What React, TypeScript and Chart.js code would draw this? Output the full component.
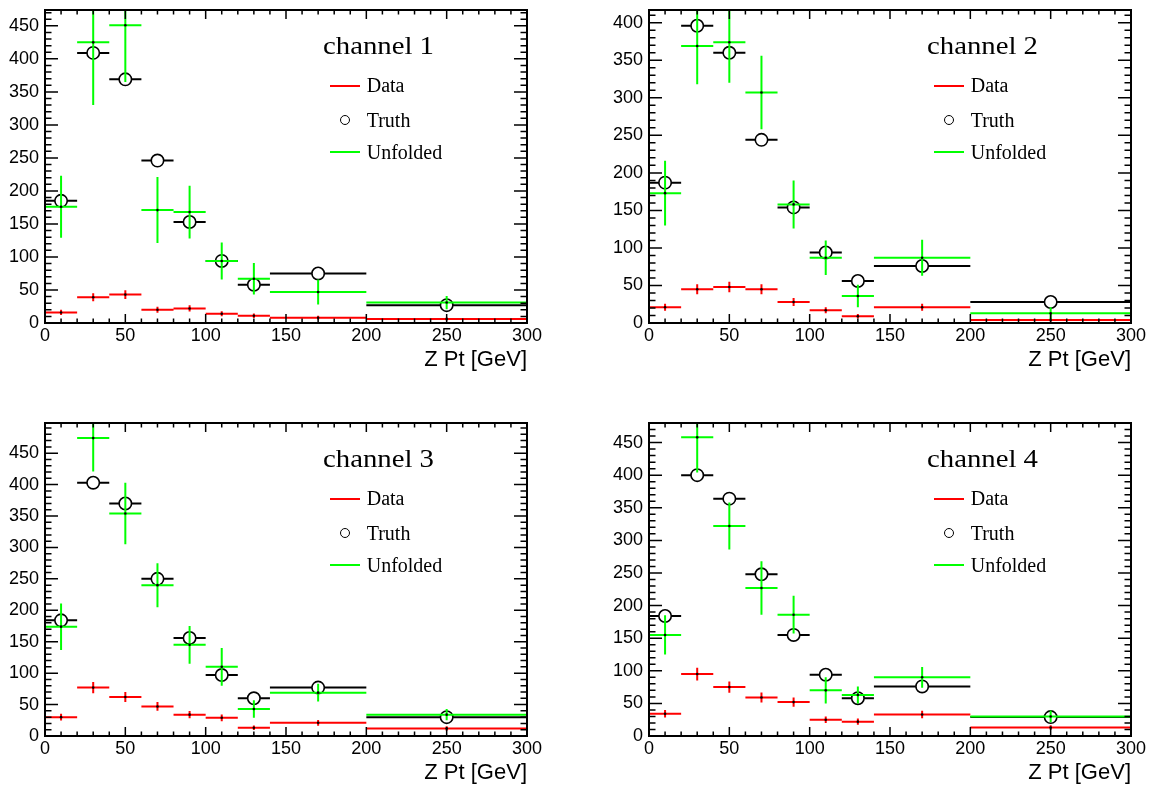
import React, { useEffect, useRef } from 'react';
import { Chart, registerables } from 'chart.js';

Chart.register(...registerables);

// ---------------- data ----------------
const BIN_EDGES = [0, 20, 40, 60, 80, 100, 120, 140, 200, 300];
const CHANNEL_TITLES = ['channel 1', 'channel 2', 'channel 3', 'channel 4'];
const LEGEND_LABELS = ['Data', 'Truth', 'Unfolded'];
const X_AXIS_TITLE = 'Z Pt [GeV]';
const Y_MAX = [474, 417, 498, 480];

const truth1 = [185, 409, 369, 246, 153, 94, 58, 75, 27];
const unfolded1 = [176, 425, 451, 171, 168, 94, 67, 47, 31];
const unfoldedErr1 = [47, 95, 86, 50, 40, 28, 24, 19, 10];
const data1 = [16, 39, 43, 20, 22, 14, 11, 8, 6];
const dataErr1 = [4, 6, 6.5, 4.5, 4.7, 3.7, 3.3, 2.8, 2.4];

const truth2 = [187, 396, 360, 244, 154, 94, 56, 76, 28];
const unfolded2 = [173, 369, 374, 307, 158, 87, 36, 87, 13];
const unfoldedErr2 = [43, 51, 54, 49, 32, 23, 15, 24, 8];
const data2 = [21, 45, 48, 45, 28, 17, 9, 21, 4];
const dataErr2 = [4.6, 6.7, 6.9, 6.7, 5.3, 4.1, 3, 4.6, 2];

const truth3 = [184, 403, 370, 250, 156, 97, 60, 77, 30];
const unfolded3 = [174, 474, 354, 240, 145, 110, 43, 69, 34];
const unfoldedErr3 = [37, 53, 49, 35, 30, 30, 14, 14, 9];
const data3 = [30, 77, 62, 47, 34, 29, 13, 21, 12];
const dataErr3 = [5.5, 8.8, 7.9, 6.9, 5.8, 5.4, 3.6, 4.6, 3.5];

const truth4 = [184, 400, 364, 248, 155, 94, 58, 76, 29];
const unfolded4 = [155, 458, 322, 227, 186, 70, 63, 90, 30];
const unfoldedErr4 = [30, 54, 36, 41, 29, 20, 13, 16, 9];
const data4 = [34, 95, 75, 59, 52, 25, 22, 33, 13];
const dataErr4 = [5.8, 9.7, 8.7, 7.7, 7.2, 5, 4.7, 5.7, 3.6];

const PANELS = [
  { truth: truth1, unf: unfolded1, unfErr: unfoldedErr1, data: data1, dataErr: dataErr1 },
  { truth: truth2, unf: unfolded2, unfErr: unfoldedErr2, data: data2, dataErr: dataErr2 },
  { truth: truth3, unf: unfolded3, unfErr: unfoldedErr3, data: data3, dataErr: dataErr3 },
  { truth: truth4, unf: unfolded4, unfErr: unfoldedErr4, data: data4, dataErr: dataErr4 },
];

// ---------------- layout ----------------
const COL_LEFT = [45, 649];
const ROW_TOP = [10, 423];
const Y_AXIS_W = 45;
const PLOT_W = 482;
const PLOT_H = 313;
const TOP_PAD = 10;
const RIGHT_PAD = 26;
const X_AXIS_H = 50;
const CANVAS_W = Y_AXIS_W + PLOT_W + RIGHT_PAD;
const CANVAS_H = TOP_PAD + PLOT_H + X_AXIS_H;

const SANS = '"Liberation Sans", Arial, Helvetica, sans-serif';
const SERIF = '"Liberation Serif", "Times New Roman", serif';

const X_MAJOR = 50, X_MINOR = 10, Y_MAJOR = 50, Y_MINOR = 10;

function histSegments(values: number[], errs: number[] | null) {
  const pts: { x: number; y: number | null }[] = [];
  values.forEach((v, i) => {
    const lo = BIN_EDGES[i];
    const hi = BIN_EDGES[i + 1];
    const c = (lo + hi) / 2;
    pts.push({ x: lo, y: v }, { x: hi, y: v }, { x: c, y: null });
    if (errs) {
      pts.push({ x: c, y: v - errs[i] }, { x: c, y: v + errs[i] }, { x: c, y: null });
    }
  });
  return pts;
}

function centers(values: number[]) {
  return values.map((v, i) => ({ x: (BIN_EDGES[i] + BIN_EDGES[i + 1]) / 2, y: v }));
}

const frameTicks = {
  id: 'frameTicks',
  afterDatasetsDraw(chart: any) {
    const { ctx, chartArea: a, scales } = chart;
    const xs = scales.x;
    const ys = scales.y;
    ctx.save();
    ctx.strokeStyle = '#000';
    ctx.lineWidth = 1.5;
    ctx.beginPath();
    for (let v = xs.min; v <= xs.max + 1e-6; v += X_MINOR) {
      const p = xs.getPixelForValue(v);
      const L = Math.round(v) % X_MAJOR === 0 ? 9 : 4.5;
      ctx.moveTo(p, a.bottom);
      ctx.lineTo(p, a.bottom - L);
      ctx.moveTo(p, a.top);
      ctx.lineTo(p, a.top + L);
    }
    for (let v = 0; v <= ys.max + 1e-6; v += Y_MINOR) {
      const p = ys.getPixelForValue(v);
      const L = Math.round(v) % Y_MAJOR === 0 ? 13 : 6.5;
      ctx.moveTo(a.left, p);
      ctx.lineTo(a.left + L, p);
      ctx.moveTo(a.right, p);
      ctx.lineTo(a.right - L, p);
    }
    ctx.stroke();
    ctx.lineWidth = 2;
    ctx.strokeRect(a.left, a.top, a.right - a.left, a.bottom - a.top);
    ctx.restore();
  },
};

function Panel({ idx }: { idx: number }) {
  const ref = useRef<HTMLCanvasElement>(null);
  const col = idx % 2;
  const row = Math.floor(idx / 2);
  const left = COL_LEFT[col] - Y_AXIS_W;
  const top = ROW_TOP[row] - TOP_PAD;

  useEffect(() => {
    const p = PANELS[idx];
    const chart = new Chart(ref.current as HTMLCanvasElement, {
      type: 'line',
      data: {
        datasets: [
          {
            label: 'UnfoldedCenter',
            data: centers(p.unf),
            showLine: false,
            pointRadius: 1.3,
            pointBackgroundColor: '#000',
            pointBorderWidth: 0,
            order: 0,
          },
          {
            label: LEGEND_LABELS[2],
            data: histSegments(p.unf, p.unfErr),
            borderColor: '#00ff00',
            borderWidth: 2,
            pointRadius: 0,
            spanGaps: false,
            order: 1,
          },
          {
            label: LEGEND_LABELS[1],
            data: centers(p.truth),
            showLine: false,
            pointRadius: 6.2,
            pointStyle: 'circle',
            pointBackgroundColor: '#ffffff',
            pointBorderColor: '#000',
            pointBorderWidth: 1.6,
            order: 2,
          },
          {
            label: 'TruthBins',
            data: histSegments(p.truth, null),
            borderColor: '#000',
            borderWidth: 2,
            pointRadius: 0,
            spanGaps: false,
            order: 3,
          },
          {
            label: 'DataCenter',
            data: centers(p.data),
            showLine: false,
            pointRadius: 1.3,
            pointBackgroundColor: '#000',
            pointBorderWidth: 0,
            order: 4,
          },
          {
            label: LEGEND_LABELS[0],
            data: histSegments(p.data, p.dataErr),
            borderColor: '#ff0000',
            borderWidth: 2,
            pointRadius: 0,
            spanGaps: false,
            order: 5,
          },
        ],
      } as any,
      options: {
        responsive: false,
        animation: false,
        events: [],
        layout: { padding: { top: TOP_PAD, right: RIGHT_PAD, left: 0, bottom: 0 } },
        plugins: { legend: { display: false }, tooltip: { enabled: false }, title: { display: false } },
        scales: {
          x: {
            type: 'linear',
            min: 0,
            max: 300,
            grid: { display: false, drawTicks: false },
            border: { display: false },
            ticks: {
              stepSize: 50,
              includeBounds: false,
              padding: 4,
              color: '#000',
              maxRotation: 0,
              autoSkip: false,
              font: { family: SANS, size: 18, lineHeight: 1 },
            },
            title: {
              display: true,
              text: X_AXIS_TITLE,
              align: 'end',
              color: '#000',
              padding: 0,
              font: { family: SANS, size: 22, lineHeight: 1.2 },
            },
            afterFit: (s: any) => {
              s.height = X_AXIS_H;
              s.paddingLeft = 0;
              s.paddingRight = 0;
            },
          },
          y: {
            type: 'linear',
            min: 0,
            max: Y_MAX[idx],
            grid: { display: false, drawTicks: false },
            border: { display: false },
            ticks: {
              stepSize: 50,
              includeBounds: false,
              padding: 6,
              color: '#000',
              font: { family: SANS, size: 18, lineHeight: 1 },
            },
            afterBuildTicks: (s: any) => {
              const t: { value: number }[] = [];
              for (let v = 0; v <= s.max + 1e-6; v += Y_MAJOR) t.push({ value: v });
              s.ticks = t;
            },
            afterFit: (s: any) => {
              s.width = Y_AXIS_W;
              s.paddingTop = 0;
              s.paddingBottom = 0;
            },
          },
        },
      } as any,
      plugins: [frameTicks],
    });
    return () => chart.destroy();
  }, [idx]);

  return (
    <canvas
      ref={ref}
      width={CANVAS_W}
      height={CANVAS_H}
      style={{ position: 'absolute', left, top, width: CANVAS_W, height: CANVAS_H }}
    />
  );
}

function Legend({ idx }: { idx: number }) {
  const col = idx % 2;
  const row = Math.floor(idx / 2);
  const pl = COL_LEFT[col];
  const pt = ROW_TOP[row];
  const titleSize = 25;
  const entrySize = 20;
  const base = (fs: number) => 0.8375 * fs;
  const textStyle = (fs: number, baseline: number, x: number): React.CSSProperties => ({
    position: 'absolute',
    left: x,
    top: baseline - base(fs),
    fontFamily: SERIF,
    fontSize: fs,
    lineHeight: 1,
    color: '#000',
    whiteSpace: 'nowrap',
  });
  return (
    <>
      <div style={{ ...textStyle(titleSize, pt + 44, pl + 278), transform: 'scaleX(1.15)', transformOrigin: 'left top' }}>
        {CHANNEL_TITLES[idx]}
      </div>
      <div style={{ position: 'absolute', left: pl + 285, top: pt + 75, width: 30, height: 2, background: '#ff0000' }} />
      <div style={textStyle(entrySize, pt + 81.7, pl + 321.7)}>{LEGEND_LABELS[0]}</div>
      <div
        style={{
          position: 'absolute',
          left: pl + 299.5 - 5,
          top: pt + 110 - 5,
          width: 10,
          height: 10,
          boxSizing: 'border-box',
          border: '1.7px solid #000',
          borderRadius: '50%',
        }}
      />
      <div style={textStyle(entrySize, pt + 116.7, pl + 321.7)}>{LEGEND_LABELS[1]}</div>
      <div style={{ position: 'absolute', left: pl + 285, top: pt + 141.3, width: 30, height: 2, background: '#00ff00' }} />
      <div style={textStyle(entrySize, pt + 149, pl + 321.7)}>{LEGEND_LABELS[2]}</div>
    </>
  );
}

export default function App() {
  return (
    <div
      style={{
        position: 'absolute',
        left: 0,
        top: 0,
        width: 1158,
        height: 787,
        overflow: 'hidden',
        background: '#ffffff',
      }}
    >
      {[0, 1, 2, 3].map((i) => (
        <Panel key={'p' + i} idx={i} />
      ))}
      {[0, 1, 2, 3].map((i) => (
        <Legend key={'l' + i} idx={i} />
      ))}
    </div>
  );
}
